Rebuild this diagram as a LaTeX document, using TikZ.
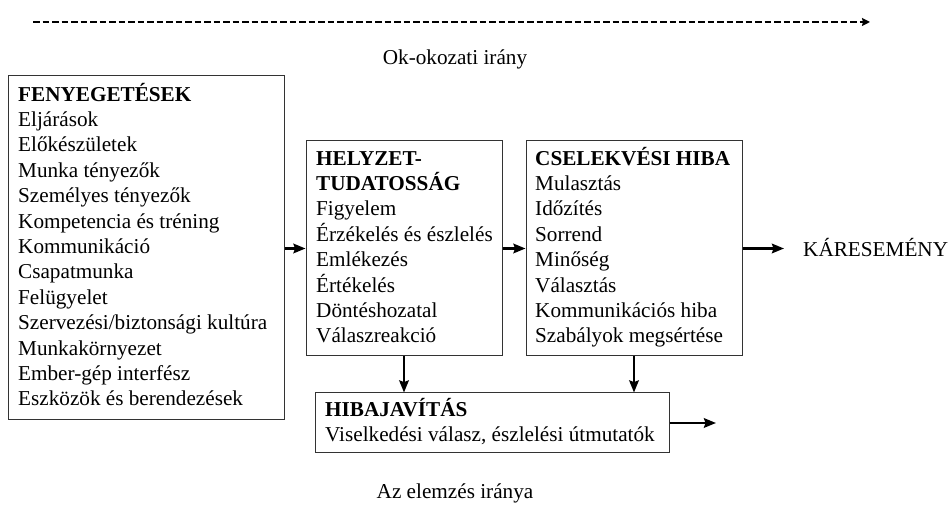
\documentclass[tikz,border=0pt]{standalone}
\usepackage{fontspec}
\setmainfont{Liberation Serif}
\usetikzlibrary{arrows.meta,calc}
\newcommand{\fl}{\rule{0pt}{20pt}}
\begin{document}
\begin{tikzpicture}[x=1pt,y=1pt,
  box/.style={draw=black!80,line width=1pt,inner sep=0pt},
  txt/.style={anchor=north west,align=left,inner sep=0pt,font=\fontsize{21.2}{25.4}\selectfont},
  lbl/.style={inner sep=0pt,font=\fontsize{21.2}{25.4}\selectfont},
  arr/.style={line width=2.4pt,-{Stealth[length=12pt,width=9.5pt,inset=1.5pt]}},
  dasharr/.style={line width=2.6pt,dash pattern=on 6.5pt off 3pt,-{Stealth[length=8pt,width=8pt,inset=1pt]}}]
\useasboundingbox (0,0) rectangle (951,513);
% boxes
\node[box,minimum width=276pt,minimum height=344pt] (fen) at (146,265) {};
\node[box,minimum width=196pt,minimum height=215pt] (hel) at (404,264.5) {};
\node[box,minimum width=216pt,minimum height=215pt] (csel) at (634,264.5) {};
\node[box,minimum width=354pt,minimum height=60pt] (hib) at (492,90) {};
% texts (first baseline + 20pt)
\node[txt] (fent) at (18,432) {\fl\textbf{FENYEGETÉSEK}\\Eljárások\\Előkészületek\\Munka tényezők\\Személyes tényezők\\Kompetencia és tréning\\Kommunikáció\\Csapatmunka\\Felügyelet\\Szervezési/biztonsági kultúra\\Munkakörnyezet\\Ember-gép interfész\\Eszközök és berendezések};
\node[txt] (helt) at (316,368) {\fl\textbf{HELYZET-}\\\textbf{TUDATOSSÁG}\\Figyelem\\Érzékelés és észlelés\\Emlékezés\\Értékelés\\Döntéshozatal\\Válaszreakció};
\node[txt] (cselt) at (535,368) {\fl\textbf{CSELEKVÉSI HIBA}\\Mulasztás\\Időzítés\\Sorrend\\Minőség\\Választás\\Kommunikációs hiba\\Szabályok megsértése};
\node[txt] (hibt) at (325,117) {\fl\textbf{HIBAJAVÍTÁS}\\Viselkedési válasz, észlelési útmutatók};
\node[lbl,anchor=base west] (kar) at (803,256) {KÁRESEMÉNY};
\node[lbl,anchor=base] (ok) at (455,448) {Ok-okozati irány};
\node[lbl,anchor=base] (az) at (455,14) {Az elemzés iránya};
% coordinates
\coordinate (ds) at (33,491);
\coordinate (de) at (870,491);
\coordinate (karin) at (784,264.5);
\coordinate (out) at (716,90);
% connectors
\draw[dasharr] (ds) -- (de);
\draw[arr] (fen.east |- hel.west) -- (hel.west);
\draw[arr] (hel.east) -- (csel.west);
\draw[arr] (csel.east) -- (karin);
\draw[arr] (hel.south) -- (hel.south |- hib.north);
\draw[arr] (csel.south) -- (csel.south |- hib.north);
\draw[arr] (hib.east) -- (out);
\end{tikzpicture}
\end{document}
